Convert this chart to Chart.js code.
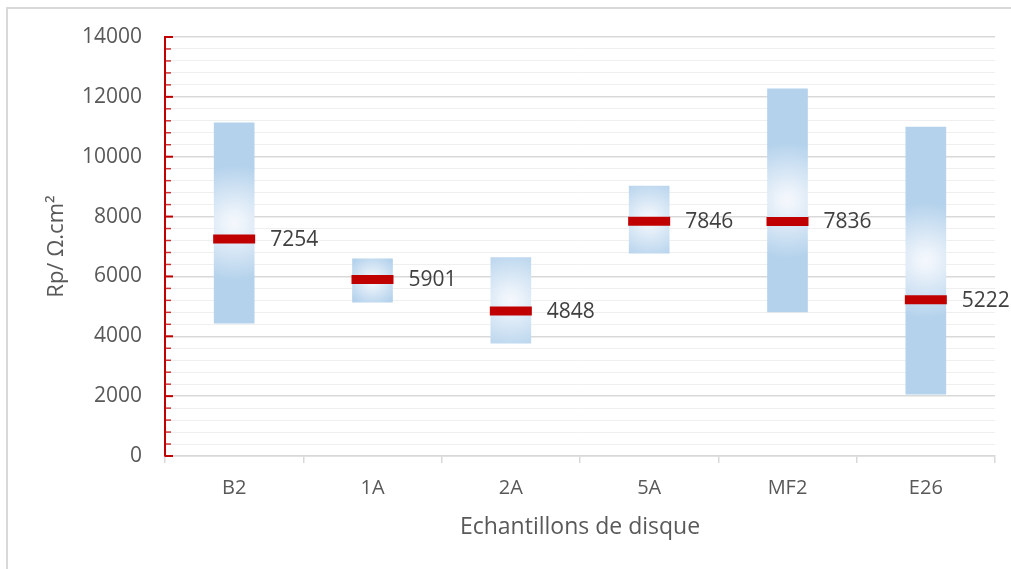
<!DOCTYPE html>
<html>
<head>
<meta charset="utf-8">
<script src="https://cdn.jsdelivr.net/npm/chart.js@4/dist/chart.umd.min.js"></script>
<style>
  html, body { margin: 0; padding: 0; background: #fff; overflow: hidden; }
  .frame { position: absolute; left: 6px; top: 7px; width: 1100px; height: 700px; border: 2px solid #d9d9d9; }
  .wrap { position: absolute; left: 0; top: 0; width: 1011px; height: 569px; }
</style>
</head>
<body>
<div class="frame"></div>
<div class="wrap"><canvas id="myChart" width="1011" height="569"></canvas></div>
<script>
const samples = ['B2', '1A', '2A', '5A', 'MF2', 'E26'];
const rpLow = [4440, 5140, 3770, 6780, 4810, 2070];
const rpHigh = [11130, 6590, 6630, 9020, 12270, 10990];
const rpMean = [7254, 5901, 4848, 7846, 7836, 5222];

const FONT = '"Open Sans", sans-serif';
const GREY = '#595959';
const RED = '#c00000';
const BLUE = '#b4d2ec';

// each range bar gets a soft white spot in its middle
function barFill(context) {
  const i = context.dataIndex;
  if (i === undefined) return BLUE;
  const { x, y } = context.chart.scales;
  if (!x || !y) return BLUE;
  const cx = x.getPixelForValue(i);
  const top = y.getPixelForValue(rpHigh[i]);
  const bottom = y.getPixelForValue(rpLow[i]);
  if (![cx, top, bottom].every(Number.isFinite)) return BLUE;
  const cy = (top + bottom) / 2;
  const r = Math.max(1, Math.min(58, (bottom - top) * 0.62));
  const g = context.chart.ctx.createRadialGradient(cx, cy, 0, cx, cy, r);
  g.addColorStop(0, '#f5f8fd');
  g.addColorStop(0.15, '#eef4fb');
  g.addColorStop(1, BLUE);
  return g;
}

// small red marks on the inner side of the value axis
const axisMarks = {
  id: 'axisMarks',
  afterDraw(chart) {
    const y = chart.scales.y;
    const ctx = chart.ctx;
    ctx.save();
    ctx.strokeStyle = RED;
    y.ticks.forEach(t => {
      const py = y.getPixelForValue(t.value);
      const major = t.value % 2000 === 0;
      ctx.lineWidth = major ? 2 : 1.5;
      ctx.globalAlpha = major ? 1 : 0.8;
      ctx.beginPath();
      ctx.moveTo(y.right, py);
      ctx.lineTo(y.right + (major ? 8 : 6), py);
      ctx.stroke();
    });
    ctx.restore();
  }
};

// mean value written next to each red marker
const meanLabels = {
  id: 'meanLabels',
  afterDatasetsDraw(chart) {
    const meta = chart.getDatasetMeta(1);
    const ctx = chart.ctx;
    ctx.save();
    ctx.font = '21px ' + FONT;
    ctx.fillStyle = '#404040';
    ctx.textAlign = 'left';
    ctx.textBaseline = 'middle';
    meta.data.forEach((pt, i) => {
      ctx.fillText(String(rpMean[i]), pt.x + 36, pt.y + 1);
    });
    ctx.restore();
  }
};

const ctx = document.getElementById('myChart').getContext('2d');

new Chart(ctx, {
  type: 'bar',
  data: {
    labels: samples,
    datasets: [{
      label: 'Rp range',
      data: samples.map((s, i) => [rpLow[i], rpHigh[i]]),
      backgroundColor: barFill,
      borderWidth: 0,
      barThickness: 40,
      order: 2
    }, {
      type: 'line',
      label: 'Rp mean',
      data: rpMean,
      showLine: false,
      pointStyle: 'line',
      pointRadius: 21,
      pointBorderWidth: 9,
      pointBorderColor: RED,
      pointBackgroundColor: RED,
      clip: false,
      order: 1
    }]
  },
  options: {
    responsive: false,
    animation: false,
    events: [],
    layout: { autoPadding: false, padding: { left: 0, right: 16, top: 37, bottom: 0 } },
    plugins: {
      legend: { display: false },
      tooltip: { enabled: false }
    },
    scales: {
      x: {
        afterFit: s => { s.height = 113; },
        grid: {
          offset: true,
          drawOnChartArea: false,
          tickLength: 7,
          color: '#d9d9d9',
          lineWidth: 1.5
        },
        border: { color: '#d9d9d9', width: 1.5 },
        ticks: { color: GREY, font: { family: FONT, size: 20 }, padding: 13 },
        title: {
          display: true,
          text: 'Echantillons de disque',
          color: GREY,
          font: { family: FONT, size: 23 },
          padding: { top: 0, bottom: 28 }
        }
      },
      y: {
        min: 0,
        max: 14000,
        afterFit: s => { s.width = 165; },
        grid: {
          drawTicks: false,
          color: c => c.tick.value % 2000 === 0 ? '#d9d9d9' : '#efefef',
          lineWidth: c => c.tick.value % 2000 === 0 ? 1.5 : 1
        },
        border: { color: RED, width: 2 },
        ticks: {
          stepSize: 400,
          maxTicksLimit: 50,
          autoSkip: false,
          padding: 23,
          color: GREY,
          font: { family: FONT, size: 21 },
          callback: v => v % 2000 === 0 ? String(v) : ''
        },
        title: {
          display: true,
          text: 'Rp/ Ω.cm²',
          color: GREY,
          font: { family: FONT, size: 22 },
          padding: { top: 44, bottom: 0 }
        }
      }
    }
  },
  plugins: [axisMarks, meanLabels]
});
</script>
</body>
</html>
